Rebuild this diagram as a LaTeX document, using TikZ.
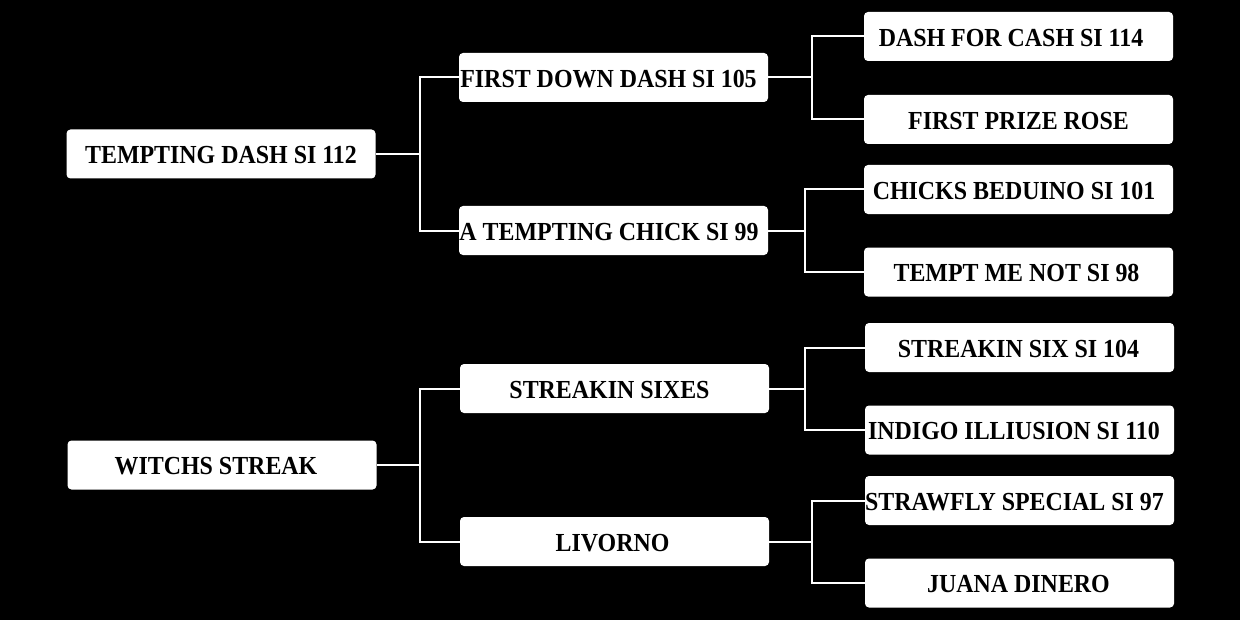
\documentclass[tikz,border=0pt]{standalone}
\usepackage{fontspec}
\setmainfont[FakeStretch=0.92]{Liberation Serif}
\newcommand\tsh[1]{\hspace*{#1pt}}
\begin{document}
\begin{tikzpicture}[x=0.5pt,y=-0.5pt,
  box/.style={fill=white, rounded corners=2pt, minimum width=154.5pt, minimum height=24.5pt,
    inner sep=0pt, font=\bfseries\fontsize{13}{13}\selectfont, text=black,
    text height=9.6pt, text depth=0pt, anchor=center},
  conn/.style={draw=white, line width=1pt}]
\fill[black] (0,0) rectangle (1240,620);
\useasboundingbox (0,0) rectangle (1240,620);
% level 1
\node[box] (td) at (221,154) {TEMPTING DASH SI 112};
\node[box] (ws) at (222,465) {\tsh{-6}WITCHS STREAK};
% level 2
\node[box] (fdd) at (613.5,77.5) {\tsh{-5}FIRST DOWN DASH SI 105};
\node[box] (atc) at (613.5,230.5) {\tsh{-4.5}A TEMPTING CHICK SI 99};
\node[box] (ss) at (614.5,388.5) {\tsh{-5}STREAKIN SIXES};
\node[box] (liv) at (614.5,541.5) {\tsh{-2}LIVORNO};
% level 3
\node[box] (dfc) at (1018.5,36.5) {\tsh{-7.5}DASH FOR CASH SI 114};
\node[box] (fpr) at (1018.5,119.5) {FIRST PRIZE ROSE};
\node[box] (cb) at (1018.5,189.5) {\tsh{-4.5}CHICKS BEDUINO SI 101};
\node[box] (tmn) at (1018.5,272) {\tsh{-2}TEMPT ME NOT SI 98};
\node[box] (ssx) at (1019.5,347.5) {\tsh{-1}STREAKIN SIX SI 104};
\node[box] (ii) at (1019.5,430) {\tsh{-5.5}INDIGO ILLIUSION SI 110};
\node[box] (sfs) at (1019.5,500.5) {\tsh{-5}STRAWFLY SPECIAL SI 97};
\node[box] (jd) at (1019.5,583) {\tsh{-1}JUANA DINERO};
% connectors
\coordinate (j1) at (420,154);
\coordinate (j2) at (420,465);
\coordinate (j3) at (812,77.5);
\coordinate (j4) at (805,230.5);
\coordinate (j5) at (805,388.5);
\coordinate (j6) at (812,541.5);
\draw[conn] (td.east) -- (j1);
\draw[conn] (fdd.west) -| (j1) |- (atc.west);
\draw[conn] (ws.east) -- (j2);
\draw[conn] (ss.west) -| (j2) |- (liv.west);
\draw[conn] (fdd.east) -- (j3);
\draw[conn] (dfc.west) -| (j3) |- (fpr.west);
\draw[conn] (atc.east) -- (j4);
\draw[conn] (cb.west) -| (j4) |- (tmn.west);
\draw[conn] (ss.east) -- (j5);
\draw[conn] (ssx.west) -| (j5) |- (ii.west);
\draw[conn] (liv.east) -- (j6);
\draw[conn] (sfs.west) -| (j6) |- (jd.west);
\end{tikzpicture}
\end{document}
